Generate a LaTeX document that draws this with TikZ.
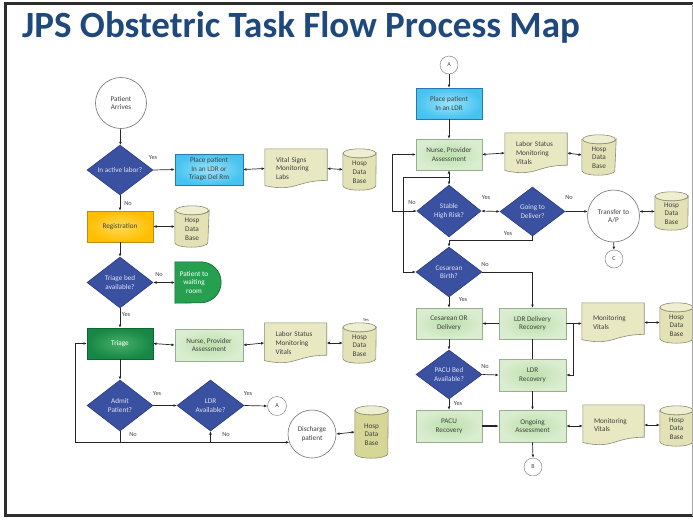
\documentclass[tikz,border=0pt]{standalone}
\usepackage{fontspec}
\setmainfont{Carlito}
\usetikzlibrary{arrows.meta,shapes.geometric,calc,backgrounds}

\definecolor{titleblue}{RGB}{31,73,125}
\definecolor{decblue}{RGB}{58,80,160}
\definecolor{decedge}{RGB}{42,58,125}
\definecolor{decfont}{RGB}{222,228,245}
\definecolor{cyanout}{RGB}{70,195,240}
\definecolor{cyanin}{RGB}{155,226,250}
\definecolor{cyanedge}{RGB}{40,120,170}
\definecolor{yelout}{RGB}{255,190,0}
\definecolor{yelin}{RGB}{255,218,90}
\definecolor{yeledge}{RGB}{190,140,20}
\definecolor{grdark}{RGB}{22,135,68}
\definecolor{grdarkin}{RGB}{70,175,105}
\definecolor{grdarkedge}{RGB}{15,100,50}
\definecolor{grmid}{RGB}{38,160,78}
\definecolor{grlight}{RGB}{218,237,208}
\definecolor{grlightin}{RGB}{188,224,172}
\definecolor{gredge}{RGB}{150,175,140}
\definecolor{khaki}{RGB}{232,232,194}
\definecolor{khakiedge}{RGB}{140,140,115}
\definecolor{cylfill}{RGB}{226,226,182}
\definecolor{cyltop}{RGB}{238,238,208}
\definecolor{cyldark}{RGB}{214,214,150}
\definecolor{txtgray}{RGB}{65,65,65}
\definecolor{framedark}{RGB}{45,45,45}

\tikzset{
  txt/.style={font=\fontsize{7.2}{8.6}\selectfont, text=txtgray, align=center, inner sep=1pt},
  procbox/.style={txt, rectangle, minimum width=66pt, minimum height=31pt, line width=0.6pt},
  cyanbox/.style={procbox, draw=cyanedge, inner color=cyanin, outer color=cyanout},
  greenbox/.style={procbox, draw=gredge, inner color=grlightin, outer color=grlight},
  decision/.style={txt, diamond, aspect=1.3, draw=decedge, fill=decblue, text=decfont,
    minimum width=66pt, minimum height=50pt, inner sep=0pt, line width=0.6pt},
  termcircle/.style={txt, circle, draw=black!55, fill=white, line width=0.6pt, inner sep=0pt},
  linkcircle/.style={txt, circle, draw=black!55, fill=white, minimum size=18pt, inner sep=0pt,
    font=\fontsize{6}{7}\selectfont},
  docnode/.style={txt, align=left, text width=40pt, inner xsep=11pt, minimum height=40pt},
  dbnode/.style={txt, minimum width=33pt, minimum height=41pt, inner sep=0pt,
    text height=29pt, text depth=2pt},
  docst/.style={fill=khaki, draw=khakiedge, line width=0.6pt},
  cylst/.style={fill=cylfill, draw=khakiedge, line width=0.6pt},
  lab/.style={font=\fontsize{6.3}{7}\selectfont, text=txtgray, inner sep=0pt},
  ln/.style={draw=black!85, line width=0.7pt},
  arr/.style={ln, -{Latex[length=3.2pt,width=2.8pt]}},
  darr/.style={ln, {Latex[length=3.2pt,width=2.8pt]}-{Latex[length=3.2pt,width=2.8pt]}},
}

% outline of a flowchart document drawn round a node
\newcommand\docout[1]{%
  \path[docst] (#1.north west) -- (#1.north east)
    -- ($(#1.north east)!0.802!(#1.south east)$)
    .. controls ($(#1.north)!0.802!(#1.south)$) and ($(#1.north)!1.107!(#1.south)$)
    .. ($(#1.north west)!0.934!(#1.south west)$) -- cycle;}

% outline of a database cylinder drawn round a node
\newcommand\cylout[2][cylfill]{%
  \path[cylst, fill=#1] ($(#2.north west)+(0,4.5)$) -- ($(#2.south west)+(0,-4.5)$)
    arc[start angle=180, end angle=0, x radius=16.5, y radius=4.5]
    -- ($(#2.north east)+(0,4.5)$)
    arc[start angle=0, end angle=180, x radius=16.5, y radius=4.5] -- cycle;
  \path[cylst, fill=cyltop] ($(#2.north)+(0,4.5)$) ellipse[x radius=16.5, y radius=4.5];}

\begin{document}
\begin{tikzpicture}[x=1pt, y=-1pt]
\useasboundingbox (0,0) rectangle (693,520);

% slide frame
\draw[framedark, line width=2.5pt] (693,3.5) -- (5.5,3.5) -- (5.5,515.5) -- (693,515.5);
\draw[black!35, line width=1pt] (692,3.5) -- (692,515.5);

% title
\node[anchor=base west, inner sep=0pt, font=\fontsize{37}{41}\selectfont\bfseries, text=titleblue]
  (title) at (22,37) {JPS Obstetric Task Flow Process Map};

% ---------- left column ----------
\node[termcircle, minimum size=51pt] (pa) at (121,103) {Patient\\Arrives};
\node[decision] (d1) at (120,170) {In active labor?};
\node[cyanbox, minimum width=68pt] (p1) at (209,169.5) {Place patient\\In an LDR or\\Triage Del Rm};
\node[docnode, minimum height=39pt] (v1) at (296,168.5) {Vital Signs\\Monitoring\\Labs};
\node[dbnode] (db1) at (359.5,169.5) {Hosp\\Data\\Base};
\node[procbox, draw=yeledge, inner color=yelin, outer color=yelout] (reg) at (120,226.5) {Registration};
\node[dbnode, minimum width=34pt] (db2) at (192,226.5) {Hosp\\Data\\Base};
\node[decision, minimum height=51pt] (d2) at (120,282.5) {Triage bed\\available?};
\node[txt, text=white, minimum width=46pt, minimum height=41pt, inner xsep=0pt] (wait) at (198,282.5)
  {\hspace*{-8pt}Patient to\\\hspace*{-8pt}waiting\\\hspace*{-8pt}room};
\node[procbox, draw=grdarkedge, inner color=grdarkin, outer color=grdark, text=white] (tri) at (120,343.5) {Triage};
\node[greenbox, minimum width=68pt, minimum height=32pt] (nu1) at (209,345) {Nurse, Provider\\Assessment};
\node[docnode] (v2) at (295.5,343) {Labor Status\\Monitoring\\Vitals};
\node[dbnode, minimum height=40pt] (db3) at (359.5,343) {Hosp\\Data\\Base};
\node[lab, font=\fontsize{4.5}{5}\selectfont] (ytiny) at (366,320.5) {Yes};
\node[decision, minimum height=51pt] (d3) at (120,405.5) {Admit\\Patient?};
\node[decision, minimum width=67pt, minimum height=51pt] (d4) at (210.5,405.5) {LDR\\Available?};
\node[linkcircle, minimum size=19pt] (cA1) at (277,406) {A};
\node[termcircle, minimum size=48pt] (dis) at (312,434) {Discharge\\patient};
\node[dbnode, minimum height=52pt] (db4) at (371.5,432) {Hosp\\Data\\Base};

% ---------- right column ----------
\node[linkcircle] (cA2) at (449,65) {A};
\node[cyanbox] (p2) at (449,103.5) {Place patient\\In an LDR};
\node[greenbox] (nu2) at (449,154.5) {Nurse, Provider\\Assessment};
\node[docnode] (v3) at (536,153) {Labor Status\\Monitoring\\Vitals};
\node[dbnode, minimum width=34pt, minimum height=40pt] (db5) at (599,155) {Hosp\\Data\\Base};
\node[decision, minimum width=64pt, minimum height=52pt] (d5) at (449,211) {Stable\\High Risk?};
\node[decision, minimum width=65pt, minimum height=49pt] (d6) at (532.5,211.5) {Going to\\Deliver?};
\node[termcircle, minimum size=52pt] (tr) at (613.5,216) {Transfer to\\A/P};
\node[dbnode, minimum height=38pt] (db6) at (671.5,211) {Hosp\\Data\\Base};
\node[linkcircle] (cC) at (614,259) {C};
\node[decision] (d7) at (449,272) {Cesarean\\Birth?};
\node[greenbox] (ces) at (449,323.5) {Cesarean OR\\Delivery};
\node[greenbox, minimum width=67pt] (ldrd) at (532.5,323.5) {LDR Delivery\\Recovery};
\node[docnode, minimum height=39pt] (mv1) at (613,322.5) {Monitoring\\Vitals};
\node[dbnode, minimum height=40pt] (db7) at (676.5,323) {Hosp\\Data\\Base};
\node[decision, minimum height=49pt] (d8) at (449,374.5) {PACU Bed\\Available?};
\node[greenbox, minimum width=67pt, minimum height=32pt] (ldrr) at (532.5,375) {LDR\\Recovery};
\node[greenbox, minimum height=32pt] (pacu) at (449,426) {PACU\\Recovery};
\node[greenbox, minimum width=67pt, minimum height=32pt] (ong) at (532.5,426) {Ongoing\\Assessment};
\node[docnode, text width=39pt] (mv2) at (613.5,425) {Monitoring\\Vitals};
\node[dbnode, minimum height=40pt] (db8) at (676.5,426) {Hosp\\Data\\Base};
\node[linkcircle] (cB) at (533,467) {B};

% shapes drawn behind their texts
\begin{pgfonlayer}{background}
  \fill[white] (0,0) rectangle (693,520);
  \docout{v1} \docout{v2} \docout{v3} \docout{mv1} \docout{mv2}
  \cylout{db1} \cylout{db2} \cylout{db3} \cylout[cyldark]{db4}
  \cylout{db5} \cylout{db6} \cylout{db7} \cylout{db8}
  \path[fill=grmid, draw=grdarkedge, line width=0.6pt] (wait.north west)
    -- ($(wait.north east)+(-20.5,0)$)
    arc[start angle=-90, end angle=90, x radius=20.5, y radius=20.5]
    -- (wait.south west) -- cycle;
\end{pgfonlayer}

% ---------- left connectors ----------
\draw[arr] (pa) -- (d1);
\draw[arr] (d1.east) -- (p1.west);
\draw[darr] (p1.east) -- (v1.west);
\draw[darr] (v1.east) -- (db1.west);
\draw[arr] (d1.south) -- (reg.north);
\draw[darr] (reg.east) -- (db2.west);
\draw[arr] (reg.south) -- (d2.north);
\draw[darr] (d2.east) -- (wait.west);
\draw[arr] (d2.south) -- (tri.north);
\draw[darr] (tri.east) -- (nu1.west);
\draw[darr] (nu1.east) -- (v2.west);
\draw[darr] (v2.east) -- (db3.west);
\draw[arr] (tri.south) -- (d3.north);
\draw[arr] (d3.east) -- (d4.west);
\draw[arr] (d4.east) -- (cA1.west);
\coordinate (loopL) at (75,442);
\draw[ln] (d3.south) -- (d3.south |- dis.200);
\draw[arr] (d4.south |- dis.200) -- (d4.south);
\draw[arr] (loopL |- dis.200) -- (dis.200);
\draw[arr] (loopL |- dis.200) |- (tri.west);
\draw[darr] (dis.east) -- (db4.west);

% ---------- right connectors ----------
\draw[arr] (cA2) -- (p2);
\draw[arr] (p2) -- (nu2);
\draw[darr] (nu2.east) -- (v3.west);
\draw[darr] (v3.east) -- (db5.west);
\draw[darr] (nu2.south) -- (d5.north);
\draw[darr] (d5.west) -| ($(nu2.west)+(-23,0)$) -- (nu2.west);
\coordinate (jn) at (449,177);
\draw[arr] (jn) -| ($(d7.west)+(-12,0)$) -- (d7.west);
\draw[darr] (d5.east) -- (d6.west);
\draw[arr] (d6.east) -- (tr.170);
\draw[darr] (tr.10) -- (tr.10 -| db6.west);
\draw[arr] (tr) -- (cC);
\draw[arr] (d6.south) |- ($(d7.north)+(0,-6)$) -- (d7.north);
\draw[arr] (d7.east) -| (ldrd.north);
\draw[arr] (d7.south) -- (ces.north);
\draw[arr] (ldrd.west) -- (ces.east);
\draw[arr] (ldrd.east) -- (ldrd.east -| mv1.west);
\draw[arr] ($(ldrd.east)+(7,0)$) |- (ldrr.east);
\draw[darr] (mv1.east) -- (mv1.east -| db7.west);
\draw[ln] (ldrd.south) -- (ldrr.north);
\draw[arr] (ces.south) -- (d8.north);
\draw[arr] (d8.east) -- (ldrr.west);
\draw[arr] (d8.south) -- (pacu.north);
\draw[arr] (ldrr.south) -- (ong.north);
\draw[arr, line width=1.2pt] (pacu.east) -- (ong.west);
\draw[darr] (ong.east) -- (ong.east -| mv2.west);
\draw[darr] (mv2.east) -- (mv2.east -| db8.west);
\draw[arr] (ong.south) -- (cB.north);

% ---------- branch labels ----------
\node[lab] (l1) at (153,157) {Yes};
\node[lab] (l2) at (128,203) {No};
\node[lab] (l3) at (159,274) {No};
\node[lab] (l4) at (126,314) {Yes};
\node[lab] (l5) at (157,393) {Yes};
\node[lab] (l6) at (248,393) {Yes};
\node[lab] (l7) at (133,434) {No};
\node[lab] (l8) at (226,434) {No};
\node[lab] (r1) at (412,202) {No};
\node[lab] (r2) at (486,197) {Yes};
\node[lab] (r3) at (569,197) {No};
\node[lab] (r4) at (508,233) {Yes};
\node[lab] (r5) at (485,264) {No};
\node[lab] (r6) at (463,299.5) {Yes};
\node[lab] (r7) at (485,366) {No};
\node[lab] (r8) at (458,403) {Yes};
\end{tikzpicture}
\end{document}
